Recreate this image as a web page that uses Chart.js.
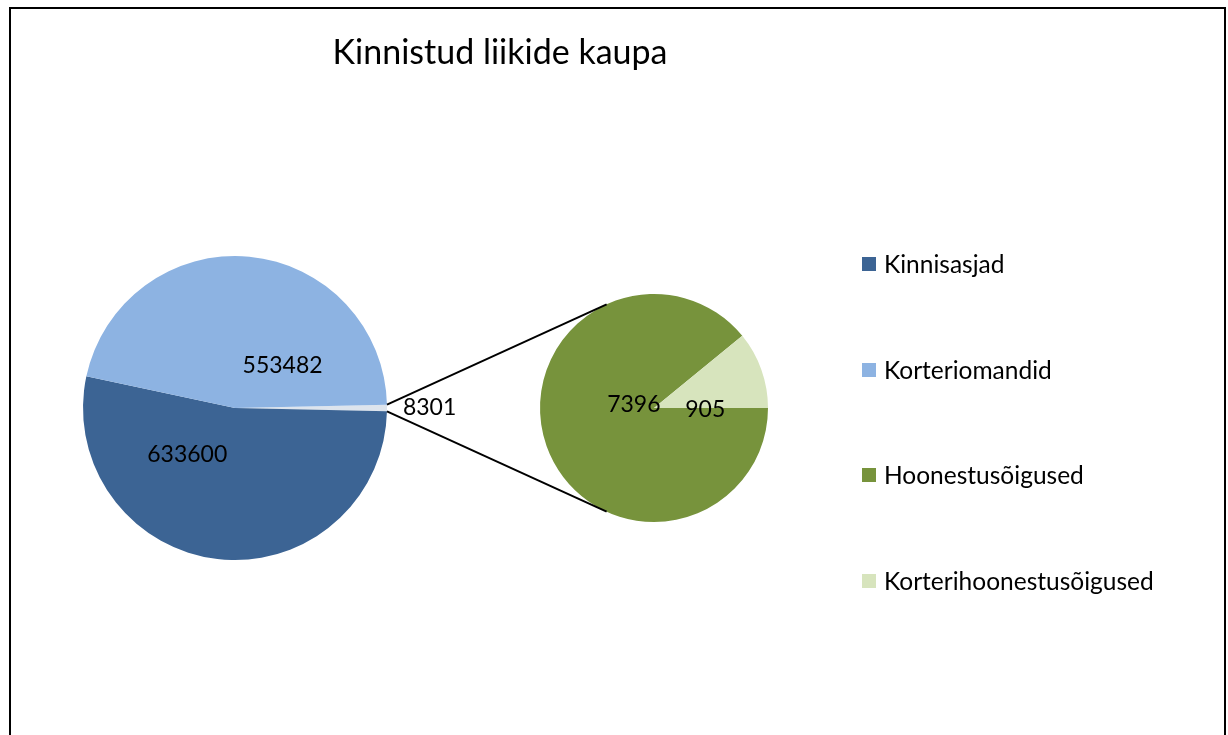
<!DOCTYPE html>
<html>
<head>
<meta charset="utf-8">
<script src="https://cdn.jsdelivr.net/npm/chart.js@4.4.1/dist/chart.umd.min.js"></script>
<style>
  html, body { margin:0; padding:0; background:#fff; }
  body { width:1228px; height:735px; position:relative; overflow:hidden; font-family:Lato, "Open Sans", sans-serif; color:#000; }
  #frame { position:absolute; left:9px; top:7px; width:1217px; height:740px; box-sizing:border-box; border:2px solid #000; border-bottom:none; }
  canvas { position:absolute; left:0; top:0; }
  #title { position:absolute; left:0; width:1000px; top:30px; text-align:center; font-size:34px; }
  #legend { position:absolute; left:862px; top:238px; font-size:24.5px; }
  .item { height:105.5px; line-height:52px; display:flex; align-items:flex-start; }
  .sw { width:14px; height:14px; margin:19px 8px 0 0; }
</style>
</head>
<body>
<div id="frame"></div>
<canvas id="main" width="1228" height="735"></canvas>
<canvas id="sub" width="1228" height="735"></canvas>
<div id="title">Kinnistud liikide kaupa</div>
<div id="legend"></div>

<script>
// ── Data ───────────────────────────────────────────────────────
const mainLabels  = ['Muud', 'Kinnisasjad', 'Korteriomandid'];
const mainValues  = [8301, 633600, 553482];
const mainColors  = ['#dde4ed', '#3c6494', '#8db3e2'];

const subLabels   = ['Hoonestusõigused', 'Korterihoonestusõigused'];
const subValues   = [7396, 905];
const subColors   = ['#77933c', '#d7e4bd'];

const legendLabels = ['Kinnisasjad', 'Korteriomandid', 'Hoonestusõigused', 'Korterihoonestusõigused'];
const legendColors = ['#3c6494', '#8db3e2', '#77933c', '#d7e4bd'];

// label spots: angle clockwise from 12 o'clock (deg), distance as fraction of radius
const mainSpots = [{a:90, f:1.28}, {a:225.6, f:0.44}, {a:48.2, f:0.42}];
const subSpots  = [{a:281, f:0.18}, {a:92, f:0.45}];

// ── Legend ────────────────────────────────────────────────────
document.getElementById('legend').innerHTML = legendLabels.map((l,i) =>
  `<div class="item"><span class="sw" style="background:${legendColors[i]}"></span><span>${l}</span></div>`
).join('');

// ── Plugins ───────────────────────────────────────────────────
const valueLabels = {
  id:'valueLabels',
  afterDatasetsDraw(chart, args, opts) {
    const {ctx} = chart;
    const arcs = chart.getDatasetMeta(0).data;
    const vals = chart.data.datasets[0].data;
    ctx.save();
    ctx.font = '23px Lato, "Open Sans", sans-serif';
    ctx.fillStyle = '#000';
    ctx.textAlign = 'center';
    ctx.textBaseline = 'middle';
    arcs.forEach((arc, i) => {
      const s = opts.spots[i];
      const a = (s.a - 90) * Math.PI / 180;
      const r = arc.outerRadius * s.f;
      ctx.fillText(String(vals[i]), arc.x + r*Math.cos(a), arc.y + r*Math.sin(a));
    });
    ctx.restore();
  }
};

let mainChart = null;

const connectors = {
  id:'connectors',
  afterDraw(chart) {
    if (!mainChart) return;
    const other = mainChart.getDatasetMeta(0).data[0];
    const sub = chart.getDatasetMeta(0).data[0];
    const cx = sub.x, cy = sub.y, r2 = sub.outerRadius;
    const ends = [other.startAngle, other.endAngle].map(t => ({
      x: other.x + other.outerRadius*Math.cos(t),
      y: other.y + other.outerRadius*Math.sin(t)
    }));
    const ctx = chart.ctx;
    ctx.save();
    ctx.strokeStyle = '#000';
    ctx.lineWidth = 2;
    ends.forEach((p, k) => {
      const d = Math.hypot(p.x - cx, p.y - cy);
      const phi = Math.atan2(p.y - cy, p.x - cx);
      const al = Math.acos(r2 / d);
      const c1 = {x: cx + r2*Math.cos(phi+al), y: cy + r2*Math.sin(phi+al)};
      const c2 = {x: cx + r2*Math.cos(phi-al), y: cy + r2*Math.sin(phi-al)};
      const up = c1.y < c2.y ? c1 : c2, dn = c1.y < c2.y ? c2 : c1;
      const t = k === 0 ? up : dn;
      ctx.beginPath();
      ctx.moveTo(p.x, p.y);
      ctx.lineTo(t.x, t.y);
      ctx.stroke();
    });
    ctx.restore();
  }
};

const mainTotal = mainValues.reduce((a,b) => a+b, 0);
const otherSweep = mainValues[0] / mainTotal * 360;

const baseOpts = {
  responsive:false, animation:false,
  events:[],
  plugins:{ legend:{display:false}, tooltip:{enabled:false}, title:{display:false} },
  elements:{ arc:{ borderWidth:0, hoverOffset:0, offset:0 } }
};

mainChart = new Chart(document.getElementById('main'), {
  type:'pie',
  data:{ labels:mainLabels, datasets:[{ data:mainValues, backgroundColor:mainColors, borderWidth:0 }] },
  options:{ ...baseOpts,
    rotation: 90 - otherSweep/2,
    layout:{ padding:{ left:83, right:841, top:256, bottom:175 } },
    plugins:{ ...baseOpts.plugins, valueLabels:{ spots:mainSpots } }
  },
  plugins:[valueLabels]
});

new Chart(document.getElementById('sub'), {
  type:'pie',
  data:{ labels:subLabels, datasets:[{ data:subValues, backgroundColor:subColors, borderWidth:0 }] },
  options:{ ...baseOpts,
    rotation: 90,
    layout:{ padding:{ left:540, right:460, top:294, bottom:213 } },
    plugins:{ ...baseOpts.plugins, valueLabels:{ spots:subSpots } }
  },
  plugins:[valueLabels, connectors]
});
</script>
</body>
</html>
